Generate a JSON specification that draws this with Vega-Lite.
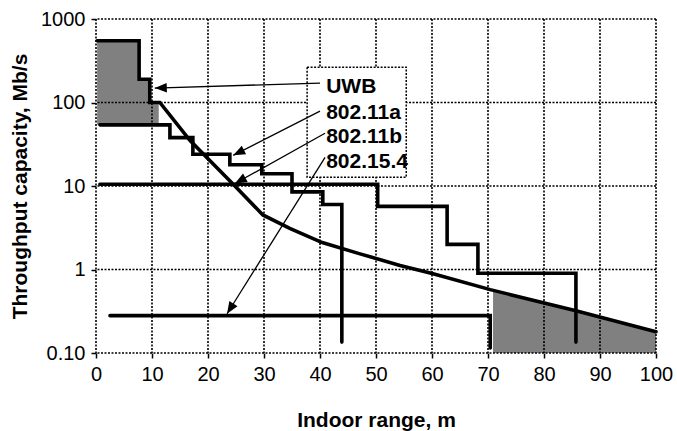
{
  "$schema": "https://vega.github.io/schema/vega-lite/v6.json",
  "width": 560,
  "height": 334,
  "autosize": "none",
  "padding": {"left": 96, "top": 19, "right": 21, "bottom": 78},
  "background": "white",
  "config": {
    "font": "Liberation Sans",
    "view": {"stroke": null},
    "axis": {
      "grid": false,
      "domain": false,
      "tickColor": "black",
      "tickWidth": 1.5,
      "tickSize": 5,
      "labelColor": "black",
      "labelFontSize": 20,
      "labelFont": "Liberation Sans",
      "titleFont": "Liberation Sans",
      "titleFontSize": 21,
      "titleFontWeight": "bold",
      "titleColor": "black"
    }
  },
  "datasets": {
    "lines": [
      {"series": "UWB", "i": 1, "x": 0.2, "y": 550},
      {"series": "UWB", "i": 2, "x": 7.7, "y": 550},
      {"series": "UWB", "i": 3, "x": 7.7, "y": 190},
      {"series": "UWB", "i": 4, "x": 9.6, "y": 190},
      {"series": "UWB", "i": 5, "x": 9.6, "y": 100},
      {"series": "UWB", "i": 6, "x": 11.4, "y": 100},
      {"series": "UWB", "i": 7, "x": 16.8, "y": 35},
      {"series": "UWB", "i": 8, "x": 24.5, "y": 10.5},
      {"series": "UWB", "i": 9, "x": 29.8, "y": 4.5},
      {"series": "UWB", "i": 10, "x": 34.6, "y": 3.1},
      {"series": "UWB", "i": 11, "x": 40.4, "y": 2.1},
      {"series": "UWB", "i": 12, "x": 47, "y": 1.55},
      {"series": "UWB", "i": 13, "x": 54.3, "y": 1.12},
      {"series": "UWB", "i": 14, "x": 60.2, "y": 0.89},
      {"series": "UWB", "i": 15, "x": 70.4, "y": 0.574},
      {"series": "UWB", "i": 16, "x": 85.7, "y": 0.32},
      {"series": "UWB", "i": 17, "x": 100, "y": 0.18},
      {"series": "802.11a", "i": 1, "x": 0.7, "y": 54},
      {"series": "802.11a", "i": 2, "x": 13.2, "y": 54},
      {"series": "802.11a", "i": 3, "x": 13.2, "y": 38},
      {"series": "802.11a", "i": 4, "x": 17.3, "y": 38},
      {"series": "802.11a", "i": 5, "x": 17.3, "y": 24},
      {"series": "802.11a", "i": 6, "x": 23.9, "y": 24},
      {"series": "802.11a", "i": 7, "x": 23.9, "y": 18},
      {"series": "802.11a", "i": 8, "x": 29.6, "y": 18},
      {"series": "802.11a", "i": 9, "x": 29.6, "y": 14},
      {"series": "802.11a", "i": 10, "x": 35, "y": 14},
      {"series": "802.11a", "i": 11, "x": 35, "y": 8.5},
      {"series": "802.11a", "i": 12, "x": 40.5, "y": 8.5},
      {"series": "802.11a", "i": 13, "x": 40.5, "y": 6},
      {"series": "802.11a", "i": 14, "x": 43.9, "y": 6},
      {"series": "802.11a", "i": 15, "x": 43.9, "y": 0.135},
      {"series": "802.11b", "i": 1, "x": 0.7, "y": 10.5},
      {"series": "802.11b", "i": 2, "x": 50.3, "y": 10.5},
      {"series": "802.11b", "i": 3, "x": 50.3, "y": 5.7},
      {"series": "802.11b", "i": 4, "x": 62.7, "y": 5.7},
      {"series": "802.11b", "i": 5, "x": 62.7, "y": 2},
      {"series": "802.11b", "i": 6, "x": 68.2, "y": 2},
      {"series": "802.11b", "i": 7, "x": 68.2, "y": 0.9},
      {"series": "802.11b", "i": 8, "x": 85.7, "y": 0.9},
      {"series": "802.11b", "i": 9, "x": 85.7, "y": 0.135},
      {"series": "802.15.4", "i": 1, "x": 2.5, "y": 0.28},
      {"series": "802.15.4", "i": 2, "x": 70.4, "y": 0.28},
      {"series": "802.15.4", "i": 3, "x": 70.4, "y": 0.115}
    ],
    "fillTop": [
      {"x": 0.2, "y": 550, "y2": 54},
      {"x": 7.7, "y": 190, "y2": 54},
      {"x": 9.6, "y": 100, "y2": 54},
      {"x": 11.2, "y": 100, "y2": 54}
    ],
    "fillBottom": [
      {"x": 70.9, "y": 0.565, "y2": 0.1},
      {"x": 85.7, "y": 0.32, "y2": 0.1},
      {"x": 100, "y": 0.18, "y2": 0.1}
    ],
    "gridX": [
      {"x": 0}, {"x": 10}, {"x": 20}, {"x": 30}, {"x": 40}, {"x": 50},
      {"x": 60}, {"x": 70}, {"x": 80}, {"x": 90}, {"x": 100}
    ],
    "gridY": [
      {"y": 0.1}, {"y": 1}, {"y": 10}, {"y": 100}, {"y": 1000}
    ],
    "box": [
      {"x": 37.7, "x2": 55.4, "y": 12.7, "y2": 265}
    ],
    "arrows": [
      {"label": "UWB", "x": 40, "y": 171, "tx": 10.5, "ty": 149},
      {"label": "802.11a", "x": 40, "y": 78.7, "tx": 24.5, "ty": 23.3},
      {"label": "802.11b", "x": 40.9, "y": 42.8, "tx": 24.8, "ty": 10.7},
      {"label": "802.15.4", "x": 40.9, "y": 22, "tx": 23.4, "ty": 0.295}
    ],
    "labels": [
      {"label": "UWB", "x": 41.1, "y": 153},
      {"label": "802.11a", "x": 41.1, "y": 74.5},
      {"label": "802.11b", "x": 41.1, "y": 38.3},
      {"label": "802.15.4", "x": 41.1, "y": 19.2}
    ]
  },
  "encoding": {
    "x": {
      "field": "x",
      "type": "quantitative",
      "scale": {"domain": [0, 100], "nice": false, "zero": false},
      "axis": {
        "title": "Indoor range, m",
        "values": [0, 10, 20, 30, 40, 50, 60, 70, 80, 90, 100],
        "labelPadding": 6,
        "titlePadding": 25,
        "labelFlush": false
      }
    },
    "y": {
      "field": "y",
      "type": "quantitative",
      "scale": {"type": "log", "domain": [0.1, 1000], "nice": false},
      "axis": {
        "title": "Throughput capacity, Mb/s",
        "values": [0.1, 1, 10, 100, 1000],
        "labelExpr": "datum.value < 0.5 ? '0.10' : format(datum.value, 'd')",
        "labelPadding": 6,
        "titlePadding": 10,
        "labelFlush": false
      }
    }
  },
  "layer": [
    {
      "data": {"name": "fillTop"},
      "mark": {"type": "area", "interpolate": "step-after", "color": "#808080"},
      "encoding": {"y2": {"field": "y2"}}
    },
    {
      "data": {"name": "fillBottom"},
      "mark": {"type": "area", "color": "#808080"},
      "encoding": {"y2": {"field": "y2"}}
    },
    {
      "data": {"name": "gridX"},
      "mark": {"type": "rule", "color": "black", "strokeWidth": 1.6, "strokeDash": [2, 1.5]},
      "encoding": {"y": null}
    },
    {
      "data": {"name": "gridY"},
      "mark": {"type": "rule", "color": "black", "strokeWidth": 1.6, "strokeDash": [2, 1.5]},
      "encoding": {"x": null}
    },
    {
      "data": {"name": "box"},
      "mark": {"type": "rect", "fill": "white", "stroke": "black", "strokeWidth": 1.5, "strokeDash": [2, 1.5]},
      "encoding": {"x2": {"field": "x2"}, "y2": {"field": "y2"}}
    },
    {
      "data": {"name": "lines"},
      "mark": {"type": "line", "color": "black", "strokeWidth": 3.6, "strokeCap": "round", "strokeJoin": "miter"},
      "encoding": {
        "detail": {"field": "series"},
        "order": {"field": "i", "type": "quantitative"}
      }
    },
    {
      "data": {"name": "arrows"},
      "mark": {"type": "rule", "color": "black", "strokeWidth": 1.3},
      "encoding": {
        "x2": {"field": "tx"},
        "y2": {"field": "ty"}
      }
    },
    {
      "data": {"name": "arrows"},
      "mark": {"type": "point", "shape": "M0,0L0.4,1L-0.4,1Z", "filled": true, "color": "black", "size": 576, "opacity": 1},
      "encoding": {
        "x": {"field": "tx", "type": "quantitative"},
        "y": {"field": "ty", "type": "quantitative"},
        "angle": {
          "condition": [
            {"test": "datum.label === 'UWB'", "value": 268.3},
            {"test": "datum.label === '802.11a'", "value": 243.2},
            {"test": "datum.label === '802.11b'", "value": 240.9}
          ],
          "value": 212.1
        }
      }
    },
    {
      "data": {"name": "labels"},
      "mark": {"type": "text", "align": "left", "baseline": "middle", "fontSize": 21, "fontWeight": "bold", "color": "black", "font": "Liberation Sans"},
      "encoding": {"text": {"field": "label"}}
    }
  ]
}
